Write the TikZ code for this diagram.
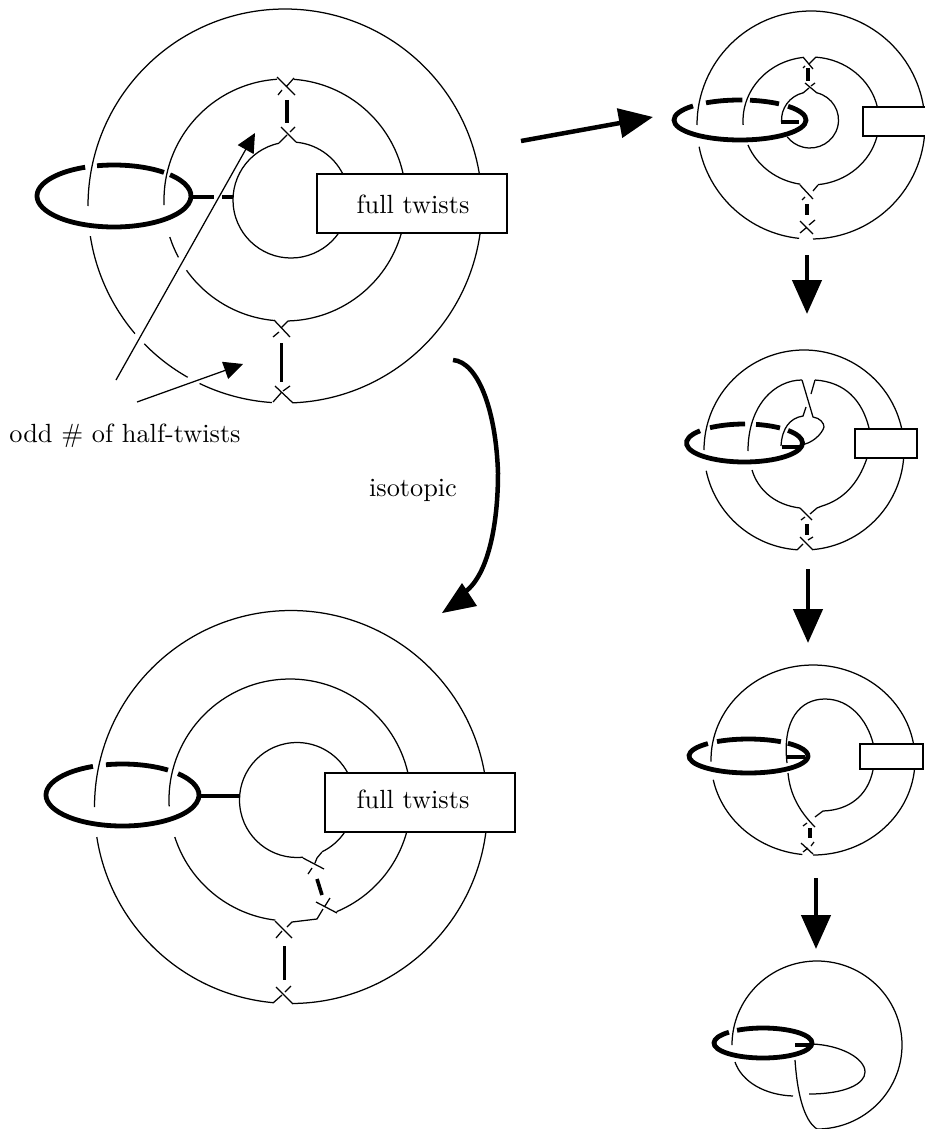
\documentclass[tikz,border=0pt]{standalone}
\usepackage{graphicx}
\usetikzlibrary{arrows.meta}
\tikzset{
  x=1pt,y=1pt,
  thin line/.style={line width=1.25pt},
  ring/.style={line width=4.8pt},
  bar/.style={line width=3.6pt},
  label text/.style={inner sep=0pt,anchor=base},
  twist box/.style={draw,line width=1.25pt,fill=white,inner sep=0pt},
  pointer/.style={line width=1.25pt,-{Triangle[length=19pt,width=18pt]}},
  big arrow/.style={line width=4.5pt,-{Triangle[length=34pt,width=29pt]}},
}
\newcommand{\bigtext}[1]{\scalebox{2.63}{#1}}
% centre x, centre y, x radius, y radius, start, end
\newcommand{\earc}[6]{\draw[thin line] ([shift={(#5:#3pt and #4pt)}]#1,#2) arc[x radius=#3pt,y radius=#4pt,start angle=#5,end angle=#6];}
\newcommand{\ringarc}[6]{\draw[ring] ([shift={(#5:#3pt and #4pt)}]#1,#2) arc[x radius=#3pt,y radius=#4pt,start angle=#5,end angle=#6];}
\begin{document}
\begin{tikzpicture}
\useasboundingbox (0,0) rectangle (925,-1129);

% ---------- top-left diagram
\earc{285}{-206}{197}{197}{180}{9.3}
\earc{285}{-206}{197}{197}{-7.8}{-87.7}
\earc{285}{-206}{197}{197}{266.2}{244.3}
\earc{285}{-206}{197}{197}{240.4}{224.4}
\earc{285}{-206}{197}{197}{220.4}{188.8}
\earc{285}{-200}{121}{121}{182.4}{93.7}
\earc{285}{-200}{121}{121}{85.8}{12.7}
\earc{285}{-200}{121}{121}{-15.8}{-88.6}
\earc{285}{-200}{121}{121}{264.8}{215.5}
\earc{285}{-200}{121}{121}{208.3}{197.8}
\earc{291}{-200}{58}{58}{85}{27.4}
\earc{291}{-200}{58}{58}{101.9}{325}
\draw[thin line] (277,-77)--(295,-95) (294,-78)--(286,-87) (282,-90)--(278,-95);
\draw[bar] (287,-100)--(287,-123);
\draw[thin line] (281,-127)--(296,-142) (279,-143)--(287,-135) (290,-132)--(295,-127);
\draw[thin line] (274,-320)--(290,-337) (288,-321)--(281,-328) (279,-332)--(273,-337);
\draw[bar,line width=3pt] (281,-343)--(281,-382);
\draw[thin line] (275,-386)--(293,-403) (273,-402)--(281,-393) (283,-391)--(290,-386);
\ringarc{114}{-196}{77}{31}{112}{403.3}
\ringarc{114}{-196}{77}{31}{102.7}{49.5}
\draw[bar] (191,-197)--(214,-197) (222,-197)--(233,-197);
\node[twist box,minimum width=190pt,minimum height=59pt] (boxa) at (412,-203.5) {};
\node[label text] (twa) at (413,-213) {\bigtext{full twists}};
\coordinate (ptra) at (116,-380);
\coordinate (tipa) at (255,-133);
\coordinate (ptrb) at (137,-402);
\coordinate (tipb) at (243,-364);
\draw[pointer] (ptra)--(tipa);
\draw[pointer] (ptrb)--(tipb);
\node[label text] (odd) at (125,-442.7) {\bigtext{odd \# of half-twists}};
\node[label text] (iso) at (413,-496.5) {\bigtext{isotopic}};

% ---------- bottom-left diagram
\earc{291}{-807}{196.5}{196.5}{180}{10}
\earc{291}{-807}{196.5}{196.5}{-7.3}{-89.4}
\earc{291}{-807}{196.5}{196.5}{264.8}{188.8}
\earc{290}{-800}{121}{121}{183}{12.7}
\earc{290}{-800}{121}{121}{-15}{-67.4}
\earc{290}{-800}{121}{121}{197.8}{263}
\earc{297}{-800}{57.5}{57.5}{276}{28}
\earc{297}{-800}{57.5}{57.5}{-33.7}{-64}
\draw[thin line] (303,-858)--(324,-869) (322,-852)--(317,-858)--(315,-863) (312,-868)--(308,-874);
\draw[bar] (317,-879)--(322,-895);
\draw[thin line] (316,-902)--(337,-913) (330,-898)--(325,-906) (323,-909)--(317,-919)--(292,-922)--(287,-927) (282,-931)--(276,-938);
\draw[thin line] (275,-921)--(292,-938);
\draw[bar,line width=3pt] (284,-946)--(284,-980);
\draw[thin line] (276,-987)--(293,-1004) (273,-1003)--(282,-995) (285,-992)--(291,-986);
\ringarc{122.5}{-795}{76.5}{31}{112.7}{403.5}
\ringarc{122.5}{-795}{76.5}{31}{102.5}{53.5}
\draw[bar] (199,-796)--(240,-796);
\node[twist box,minimum width=190pt,minimum height=59pt] (boxb) at (420,-802.5) {};
\node[label text] (twb) at (413,-808) {\bigtext{full twists}};

% ---------- right diagram 1
\earc{811}{-125}{114}{114}{180}{9}
\earc{811}{-125}{114}{114}{-5}{-89}
\earc{811}{-125}{114}{114}{264}{191}
\earc{811}{-121}{68}{64}{183.5}{96.8}
\earc{811}{-121}{68}{64}{85.8}{12.6}
\earc{811}{-121}{68}{64}{-14}{-84}
\earc{811}{-121}{68}{64}{261}{202}
\earc{810}{-120}{28.5}{28}{76}{-143}
\earc{810}{-120}{28.5}{28}{104}{184}
\draw[thin line] (803,-57)--(813,-69) (816,-57)--(809,-64) (805,-66)--(803,-68);
\draw[bar,line width=4pt] (808,-68)--(808,-81);
\draw[thin line] (805,-83)--(817,-93) (803,-93)--(809,-88) (811,-86)--(815,-83);
\draw[thin line] (800,-185)--(813,-199) (818,-185)--(813,-191) (805,-197)--(802,-200);
\draw[bar,line width=4pt] (807,-204)--(807,-215);
\draw[thin line] (800,-221)--(813,-234) (800,-233)--(806,-228) (809,-225)--(815,-220);
\ringarc{740}{-120}{66}{20}{135.4}{403.3}
\ringarc{740}{-120}{66}{20}{121}{88}
\ringarc{740}{-120}{66}{20}{81.3}{53.8}
\draw[bar,line width=3.2pt] (781,-122)--(799,-122);
\draw[line width=1.25pt,fill=white] (925,-107)--(863,-107)--(863,-136)--(925,-136);

% ---------- right diagram 2
\earc{804}{-450}{100}{100}{180}{12.7}
\earc{804}{-450}{100}{100}{-4.6}{-84.9}
\earc{804}{-450}{100}{100}{266}{192}
\draw[thin line] (748,-451) .. controls (748,-405) and (775,-380) .. (802,-380);
\draw[thin line] (815,-380) .. controls (845,-382) and (862,-400) .. (869,-428);
\draw[thin line] (752,-470) .. controls (758,-490) and (775,-505) .. (800,-508);
\draw[thin line] (867,-458) .. controls (858,-485) and (842,-500) .. (822,-506) -- (817,-508) -- (810,-514) (805,-517)--(801,-520);
\draw[thin line] (800,-508)--(812,-520);
\draw[bar,line width=4pt] (807,-524)--(807,-535);
\draw[thin line] (800,-537)--(813,-550) (797,-550)--(803,-544) (808,-540)--(813,-537);
\draw[thin line] (802,-380)--(813,-417) .. controls (820,-418) and (824,-423) .. (824,-427) .. controls (822,-434) and (812,-444) .. (800,-445);
\draw[thin line] (815,-380)--(811,-394) (806,-407)--(803,-416) .. controls (790,-418) and (782,-428) .. (781,-446);
\ringarc{744.5}{-443}{58}{19}{140}{401.4}
\ringarc{744.5}{-443}{58}{19}{126.5}{89.5}
\ringarc{744.5}{-443}{58}{19}{78.5}{52.3}
\draw[bar,line width=3.2pt] (782,-447)--(803,-447);
\node[twist box,minimum width=62pt,minimum height=29pt] (boxc) at (886,-443.5) {};

% ---------- right diagram 3
\earc{813}{-760}{102}{95}{181}{10}
\earc{813}{-760}{102}{95}{-5.4}{-90}
\earc{813}{-760}{102}{95}{264}{192}
\draw[thin line] (787,-763) .. controls (782,-720) and (800,-699) .. (825,-699) .. controls (850,-699) and (867,-720) .. (873,-743);
\draw[thin line] (788,-773) .. controls (790,-795) and (800,-812) .. (815,-827);
\draw[thin line] (873,-770) .. controls (868,-795) and (850,-810) .. (823,-811) -- (815,-817) (807,-823)--(803,-826);
\draw[bar,line width=4pt] (810,-828)--(810,-838);
\draw[thin line] (801,-843)--(813,-854) (803,-852)--(808,-848) (811,-846)--(814,-842);
\ringarc{748.5}{-756}{59.5}{17}{133}{408.6}
\ringarc{748.5}{-756}{59.5}{17}{122}{57}
\draw[bar,line width=3.2pt] (787,-757)--(805,-757);
\node[twist box,minimum width=63pt,minimum height=25pt] (boxd) at (891.5,-756.5) {};

% ---------- right diagram 4
\earc{817}{-1045}{85}{84}{180}{-90}
\draw[thin line] (795,-1060) .. controls (797,-1090) and (803,-1120) .. (817,-1129);
\draw[thin line] (735,-1062) .. controls (742,-1082) and (765,-1095) .. (793,-1096);
\draw[thin line] (809,-1094) .. controls (845,-1094) and (865,-1084) .. (865,-1072) .. controls (865,-1058) and (840,-1045) .. (812,-1044);
\ringarc{763}{-1043}{49}{15}{134}{482}
\draw[bar,line width=4pt] (795,-1045)--(810,-1045);

% ---------- big arrows
\coordinate (aa) at (521,-141);
\coordinate (ab) at (653,-117);
\draw[big arrow] (aa)--(ab);
\coordinate (ba) at (807,-255);
\coordinate (bb) at (807,-314);
\draw[big arrow] (ba)--(bb);
\coordinate (ca) at (808,-569);
\coordinate (cb) at (808,-643);
\draw[big arrow] (ca)--(cb);
\coordinate (da) at (816,-878);
\coordinate (db) at (816,-949);
\draw[big arrow] (da)--(db);
\coordinate (ia) at (453,-360);
\coordinate (ib) at (442,-613);
\coordinate (ic) at (462,-583);
\coordinate (id) at (477,-606);
\draw[line width=4.5pt] (ia) .. controls (478,-362) and (496,-410) .. (498,-473) .. controls (498,-525) and (488,-575) .. (465,-592);
\fill (ib) -- (ic) -- (id) -- cycle;
\end{tikzpicture}
\end{document}
